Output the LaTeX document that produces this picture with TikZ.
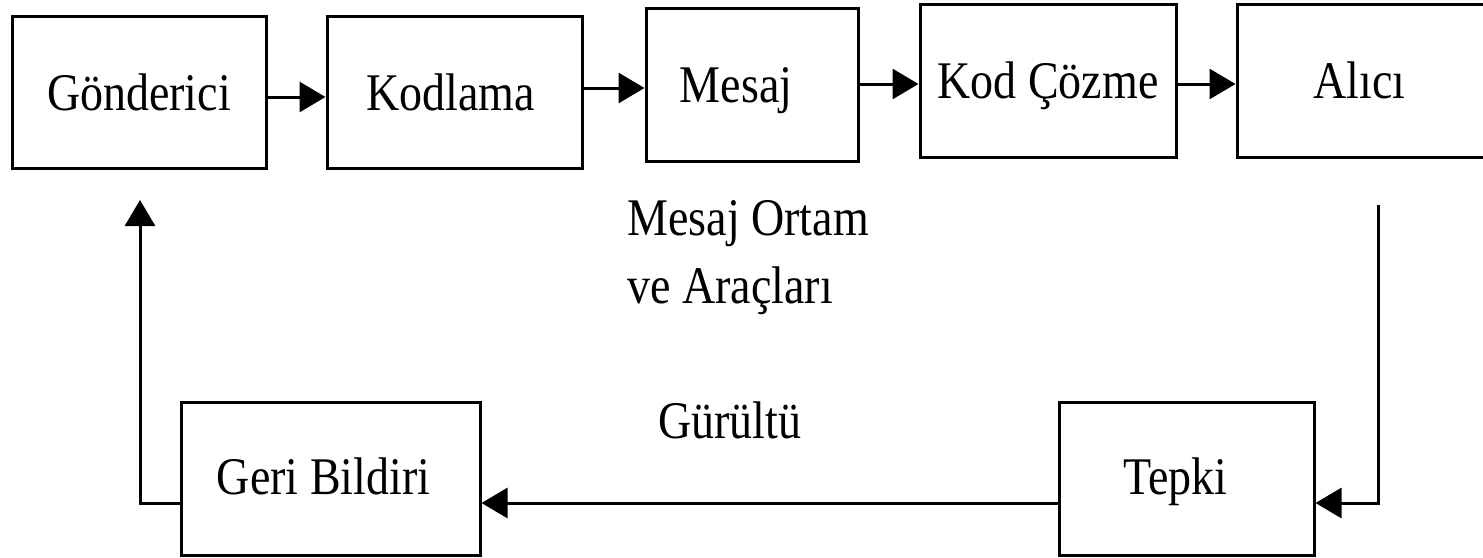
\documentclass[tikz,border=0pt]{standalone}
\usepackage{fontspec}
\setmainfont{Liberation Serif}
\usepackage{graphicx}
\usetikzlibrary{arrows.meta}
% slightly tall lettering
\newcommand\tallword[1]{\scalebox{1}[1.15]{#1}}
% label nudged left inside its box
\newcommand\leftword[2]{\tallword{#1}\hspace{#2}\mbox{}}
\begin{document}
\begin{tikzpicture}[x=0.5pt,y=-0.5pt,
  stage/.style={draw, line width=1.5pt, inner sep=0pt,
    text height=18pt, text depth=0pt,
    font=\fontsize{23pt}{28pt}\selectfont},
  flow/.style={line width=1.5pt, -{Triangle[length=13pt,width=15pt]}},
  caption/.style={anchor=base west, inner sep=0pt,
    font=\fontsize{23pt}{28pt}\selectfont}]
\clip (0,0) rectangle (1483,557);

% top row
\node[stage, minimum width=127pt,   minimum height=76pt]   (gon) at (139,92)     {\tallword{Gönderici}};
\node[stage, minimum width=127.5pt, minimum height=76pt]   (kod) at (454.5,92)   {\leftword{Kodlama}{4pt}};
\node[stage, minimum width=106pt,   minimum height=76.5pt] (msj) at (752,84.5)   {\leftword{Mesaj}{16pt}};
\node[stage, minimum width=128pt,   minimum height=76.5pt] (coz) at (1048,80.5)  {\tallword{Kod Çözme}};
\node[stage, minimum width=126.5pt, minimum height=76.5pt] (alc) at (1363.5,80.5){\leftword{Alıcı}{4pt}};

% bottom row
\node[stage, minimum width=149.5pt, minimum height=76.5pt, text height=15.5pt] (geri) at (330.5,478.5) {\leftword{Geri Bildiri}{7pt}};
\node[stage, minimum width=127.5pt, minimum height=76.5pt, text height=15.5pt] (tep)  at (1186.5,478.5){\leftword{Tepki}{11pt}};

% free labels
\node[caption] (med1) at (627,235) {\tallword{Mesaj Ortam}};
\node[caption] (med2) at (627,303) {\tallword{ve Araçları}};
\node[caption] (noise) at (658,438) {\tallword{Gürültü}};

% forward chain
\draw[flow] (gon.east |- 0,97) -- (kod.west |- 0,97);
\draw[flow] (kod.east |- 0,88) -- (msj.west |- 0,88);
\draw[flow] (msj.east |- 0,84) -- (coz.west |- 0,84);
\draw[flow] (coz.east |- 0,84) -- (alc.west |- 0,84);

% return loop
\coordinate (rtop) at (1378,205);
\coordinate (ltop) at (140,200);
\draw[flow] (rtop) |- (tep.east |- 0,503);
\draw[flow] (tep.west |- 0,503) -- (geri.east |- 0,503);
\draw[flow] (geri.west |- 0,503) -| (ltop);
\end{tikzpicture}
\end{document}
